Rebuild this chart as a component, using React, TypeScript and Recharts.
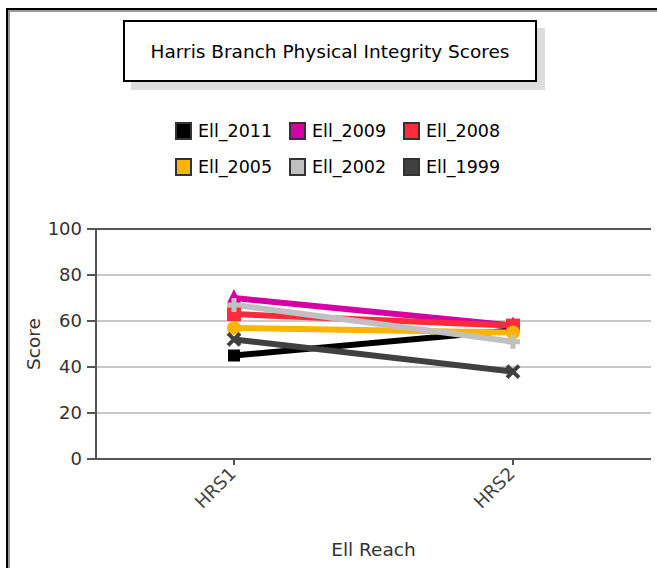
import { LineChart, Line, XAxis, YAxis, CartesianGrid, ReferenceLine } from 'recharts'

const reaches = ['HRS1', 'HRS2']
const seriesNames = ['Ell_2011', 'Ell_2009', 'Ell_2008', 'Ell_2005', 'Ell_2002', 'Ell_1999']
const ell2011 = [45, 56]
const ell2009 = [70, 58]
const ell2008 = [63, 58]
const ell2005 = [57, 55]
const ell2002 = [67, 51]
const ell1999 = [52, 38]
const yTicks = [0, 20, 40, 60, 80, 100]

const colors = ['#000000', '#d400a6', '#ff2a3a', '#ffb400', '#c0c0c0', '#404040']
const shapes = ['square', 'triangle', 'bigsquare', 'circle', 'plus', 'cross']

const data = reaches.map((r, i) => ({
  reach: r,
  Ell_2011: ell2011[i],
  Ell_2009: ell2009[i],
  Ell_2008: ell2008[i],
  Ell_2005: ell2005[i],
  Ell_2002: ell2002[i],
  Ell_1999: ell1999[i],
}))

function makeDot(shape: string, color: string) {
  return (props: any) => {
    const { cx, cy, index } = props
    if (cx == null || cy == null) return <g key={index} />
    if (shape === 'square') return <rect key={index} x={cx - 6} y={cy - 6} width={12} height={12} fill={color} />
    if (shape === 'bigsquare') return <rect key={index} x={cx - 7} y={cy - 7} width={14} height={14} fill={color} />
    if (shape === 'circle') return <circle key={index} cx={cx} cy={cy} r={7} fill={color} />
    if (shape === 'triangle')
      return <polygon key={index} points={`${cx},${cy - 9} ${cx + 7},${cy + 5} ${cx - 7},${cy + 5}`} fill={color} />
    if (shape === 'plus')
      return (
        <path key={index} d={`M${cx - 7},${cy}H${cx + 7}M${cx},${cy - 7}V${cy + 7}`} stroke={color} strokeWidth={5} />
      )
    return (
      <path key={index} d={`M${cx - 6},${cy - 6}L${cx + 6},${cy + 6}M${cx + 6},${cy - 6}L${cx - 6},${cy + 6}`} stroke={color} strokeWidth={4} />
    )
  }
}

function XTick(props: any) {
  const { x, y, payload } = props
  return (
    <text x={x + 3} y={y + 8} transform={`rotate(-45, ${x + 3}, ${y + 8})`} textAnchor="end" fill="#444" fontSize={18} fontFamily={font}>
      {payload.value}
    </text>
  )
}

const font = '"DejaVu Sans", Verdana, sans-serif'

export default function App() {
  return (
    <div style={{ position: 'absolute', left: 0, top: 0, width: 657, height: 568, overflow: 'hidden', background: '#fff', fontFamily: font }}>
      <div style={{ position: 'absolute', left: 6, top: 8, width: 700, height: 600, borderLeft: '2px solid #000', borderTop: '2px solid #000' }}>
        <div style={{ width: '100%', height: '100%', borderLeft: '2px solid #999', borderTop: '2px solid #999' }} />
      </div>
      <div style={{ position: 'absolute', left: 131, top: 28, width: 414, height: 62, background: '#ddd' }} />
      <div
        style={{
          position: 'absolute', left: 123, top: 20, width: 410, height: 58, border: '2px solid #000', background: '#fff',
          display: 'flex', alignItems: 'center', justifyContent: 'center', fontSize: 18.5, color: '#000',
        }}
      >
        Harris Branch Physical Integrity Scores
      </div>
      <div style={{ position: 'absolute', left: 175, top: 121, display: 'grid', gridTemplateColumns: '114px 114px 114px', rowGap: 17 }}>
        {seriesNames.map((n, i) => (
          <div key={n} style={{ display: 'flex', alignItems: 'center', height: 19, fontSize: 17.5, color: '#000' }}>
            <span style={{ width: 13, height: 14, background: colors[i], border: '2px solid #333', marginRight: 6, display: 'inline-block' }} />
            {n}
          </div>
        ))}
      </div>
      <div style={{ position: 'absolute', left: 0, top: 0 }}>
        <LineChart width={657} height={568} data={data} margin={{ top: 229, right: 6, bottom: 0, left: 0 }} style={{ fontFamily: font }}>
          <CartesianGrid vertical={false} stroke="#c8c8c8" strokeWidth={2} />
          <ReferenceLine y={100} stroke="#555" strokeWidth={2} />
          <XAxis
            dataKey="reach"
            height={109}
            padding={{ left: 138, right: 138 }}
            stroke="#555"
            strokeWidth={2}
            tickSize={6}
            tick={<XTick />}
            interval={0}
            label={{ value: 'Ell Reach', position: 'insideBottom', offset: 12, fill: '#333', fontSize: 18.5 }}
          />
          <YAxis
            width={96}
            domain={[0, 100]}
            ticks={yTicks}
            stroke="#555"
            strokeWidth={2}
            tickSize={9}
            tickMargin={5}
            tick={{ fill: '#333', fontSize: 18 }}
            label={{ value: 'Score', angle: -90, position: 'insideLeft', offset: 33, fill: '#333', fontSize: 18.5, style: { textAnchor: 'middle' } }}
          />
          <YAxis yAxisId="r" orientation="right" width={0} domain={[0, 100]} stroke="#555" strokeWidth={2} tick={false} tickLine={false} />
          {seriesNames.map((n, i) => (
            <Line
              key={n}
              dataKey={n}
              stroke={colors[i]}
              strokeWidth={6}
              dot={makeDot(shapes[i], colors[i])}
              activeDot={false}
              isAnimationActive={false}
            />
          ))}
        </LineChart>
      </div>
    </div>
  )
}
